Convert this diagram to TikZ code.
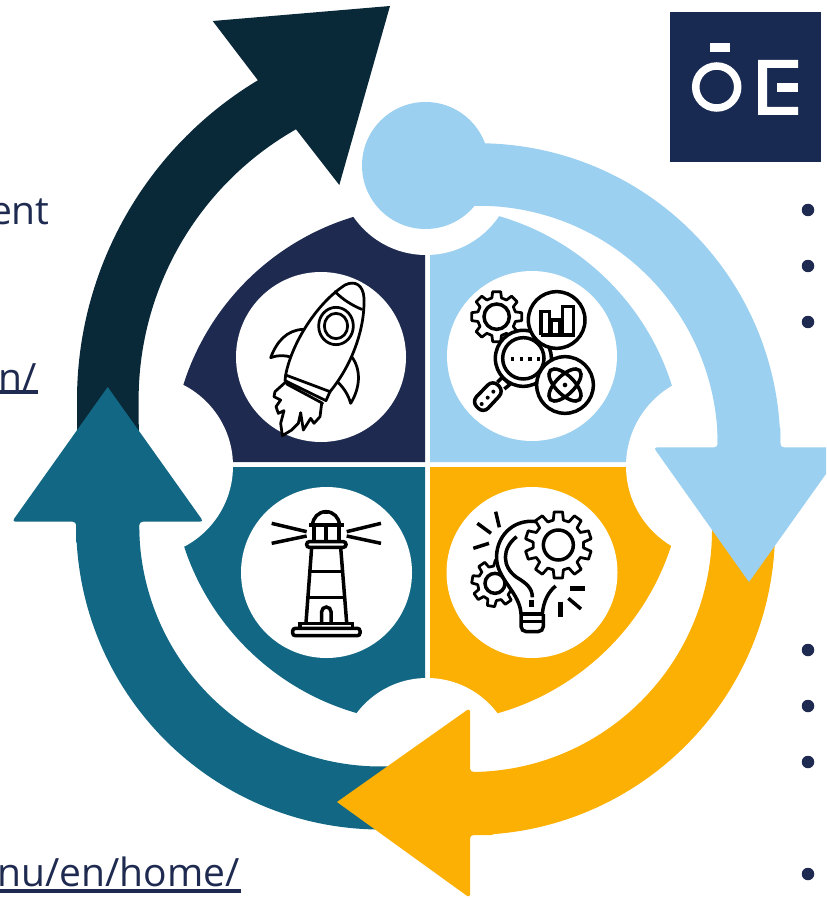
\documentclass[tikz,border=0pt]{standalone}
\usepackage{fontspec}
\setmainfont{Open Sans}
\definecolor{navy}{HTML}{1E2A50}
\definecolor{logoblue}{HTML}{182A52}
\definecolor{sky}{HTML}{9BD0F0}
\definecolor{amber}{HTML}{FBB003}
\definecolor{teal2}{HTML}{126884}
\definecolor{deep}{HTML}{092938}
\newcommand{\gearshape}[6]{% cx cy outer root teeth startangle
  \pgfmathsetmacro{\gstep}{360/#5}
  \filldraw[icon,fill=white] ({#1+#4*cos(#6-0.32*\gstep)},{#2+#4*sin(#6-0.32*\gstep)})
  \foreach \k in {1,...,#5}{
    -- ({#1+#3*cos(#6+(\k-1)*\gstep-0.2*\gstep)},{#2+#3*sin(#6+(\k-1)*\gstep-0.2*\gstep)})
    -- ({#1+#3*cos(#6+(\k-1)*\gstep+0.2*\gstep)},{#2+#3*sin(#6+(\k-1)*\gstep+0.2*\gstep)})
    -- ({#1+#4*cos(#6+(\k-1)*\gstep+0.32*\gstep)},{#2+#4*sin(#6+(\k-1)*\gstep+0.32*\gstep)})
    -- ({#1+#4*cos(#6+\k*\gstep-0.32*\gstep)},{#2+#4*sin(#6+\k*\gstep-0.32*\gstep)})
  } -- cycle;
}
\tikzset{
  icon/.style={draw=black,line width=0.055cm,line join=round,line cap=round},
  thick icon/.style={draw=black,line width=0.07cm,line join=miter},
  stem/.style={line width=#1*0.02cm,line cap=butt},
  linktext/.style={anchor=base east,text=navy,inner sep=0pt,font=\fontsize{22.2}{26}\selectfont},
  bulletdot/.style={circle,fill=navy,inner sep=0pt,minimum size=0.25cm}
}
\begin{document}
\begin{tikzpicture}[x=0.02cm,y=-0.02cm]
\useasboundingbox (0,0) rectangle (826,898);
\clip (0,0) rectangle (826,898);
% central quadrants
\fill[navy] (425,462) -- (171.5,462) arc[start angle=180,end angle=270,radius=256] -- (425,208.5) -- cycle;
\fill[sky] (430,462) -- (683.5,462) arc[start angle=0,end angle=-90,radius=256] -- (430,208.5) -- cycle;
\fill[teal2] (425,467) -- (171.5,467) arc[start angle=180,end angle=90,radius=256] -- (425,720.5) -- cycle;
\fill[amber] (430,467) -- (683.5,467) arc[start angle=0,end angle=90,radius=256] -- (430,720.5) -- cycle;
% notches
\fill[white] (426,167) circle[radius=88];
\fill[white] (142,466) circle[radius=91];
\fill[white] (719,466) circle[radius=93];
\fill[white] (427,766) circle[radius=88];
% icon discs
\fill[white] (321,357) circle[radius=85];
\fill[white] (532,356) circle[radius=85];
\fill[white] (326.5,572.5) circle[radius=85.5];
\fill[white] (532,572.5) circle[radius=85.5];
% dark arrow
\fill[deep] (77,470) -- (77,400) arc[start angle=180,end angle=239,radius=373] -- (212.7,21) -- (390,6) -- (339.3,185) -- (296,129.3) arc[start angle=240.4,end angle=180,radius=311] -- (139,470) -- cycle;
% teal arrow
\draw[teal2,stem=63] (107.7,530) -- (107.7,525) arc[start angle=180,end angle=85,radius=273];
\fill[teal2] (107.7,387) [rounded corners=2pt] -- (203.5,521.7) -- (139.2,521.7) -- (139.2,545) -- (76.2,545) -- (76.2,521.7) -- (12,521.7) [sharp corners] -- cycle;
% amber arrow
\draw[amber,stem=63] (743.5,480) -- (743.5,530) arc[start angle=0,end angle=90,radius=273.5] -- (440,803.5);
\fill[amber] (337,802) [rounded corners=2pt] -- (470,708) -- (470,772) -- (495,772) -- (495,835) -- (470,835) -- (470,898) [sharp corners] -- cycle;
% sky arrow
\draw[sky,stem=62.5] (749,455) -- (749,445) arc[start angle=0,end angle=-105,radius=270.5];
\fill[sky] (425.5,165.5) circle[radius=63.5];
\fill[sky] (749,582) [rounded corners=2pt] -- (845,447.3) -- (780.3,447.3) -- (780.3,425) -- (717.7,425) -- (717.7,447.3) -- (653.5,447.3) [sharp corners] -- cycle;
% logo
\fill[logoblue] (670,12) rectangle (821,162);
\draw[white,line width=0.15cm] (716.7,87) circle[radius=21];
\fill[white] (710,43) rectangle (730,52);
\fill[white] (758,60) -- (798,60) -- (798,68) -- (767,68) -- (767,107) -- (798,107) -- (798,115) -- (758,115) -- cycle;
\fill[white] (777,83) rectangle (798,92);
% bullets
\foreach \n/\yy in {a/210,b/266,c/322,d/650,e/706,f/762,g/874}
  \node[bulletdot] (bullet\n) at (808,\yy) {};
% texts
\node[linktext] (t1) at (50,225) {ent};
\node[linktext] (t2) at (37.5,391) {n/};
\node[linktext] (t3) at (240,886.5) {nu/en/home/};
\fill[navy] (0,390) rectangle (38,394);
\fill[navy] (0,889) rectangle (241,893);
% rocket
\begin{scope}[shift={(220,260)},scale=1/3]
 \draw[icon] (250,208) .. controls (200,210) and (170,245) .. (152,293) .. controls (172,285) and (195,285) .. (215,292);
 \draw[icon] (395,290) .. controls (425,330) and (420,385) .. (392,430) .. controls (385,405) and (372,385) .. (355,368);
 \filldraw[icon,fill=white] (197,345) .. controls (215,250) and (290,130) .. (375,75) .. controls (405,60) and (430,75) .. (432,115) .. controls (435,200) and (400,310) .. (330,395) -- cycle;
 \draw[icon] (345,95) .. controls (370,120) and (395,135) .. (425,148);
 \draw[icon] (348,198) ellipse[x radius=52,y radius=56];
 \draw[icon] (348,198) ellipse[x radius=35,y radius=38];
 \draw[icon] (197,345) -- (195,362) -- (318,422) -- (330,395);
 \draw[icon] (200,372) -- (308,430);
 \draw[icon] (195,368) -- (165,395) -- (162,410) -- (182,420) -- (168,440) -- (175,460) -- (192,452) -- (182,490) -- (187,527) -- (215,510) -- (235,490) -- (242,458) -- (250,510) -- (272,475) -- (282,490) -- (300,470) -- (305,430);
\end{scope}
% research icon
\begin{scope}[shift={(440,265)},scale=1/3]
 \gearshape{170}{155}{76}{58}{8}{0}
 \draw[thick icon] (170,155) circle[radius=38];
 % handle
 \draw[thick icon,rounded corners=4pt] (158,345) -- (192,378) -- (130,445) -- (95,410) -- cycle;
 \draw[thick icon,line join=round] (172,352) -- (187,337) -- (210,358) -- (193,372);
 \fill (125,417) circle[radius=6] (143,398) circle[radius=6] (160,380) circle[radius=6];
 \filldraw[thick icon,fill=white] (250,280) circle[radius=84];
 \draw[thick icon] (250,280) circle[radius=62];
 \foreach \dx in {218,245,270,295} \fill (\dx-5,277) rectangle (\dx+5,287);
 \filldraw[thick icon,fill=white] (350,165) circle[radius=85];
 \draw[thick icon] (303,210) -- (303,140) -- (328,140) -- (328,210) (335,210) -- (335,165) -- (358,165) -- (358,210) (368,210) -- (368,125) -- (400,125) -- (400,210) -- (303,210);
 \filldraw[thick icon,fill=white] (375,360) circle[radius=85];
 \begin{scope}[shift={(375,360)}]
  \draw[thick icon,rotate=45] (0,0) ellipse[x radius=62,y radius=28];
  \draw[thick icon,rotate=-45] (0,0) ellipse[x radius=62,y radius=28];
  \fill (0,0) circle[radius=7];
 \end{scope}
\end{scope}
% lighthouse
\begin{scope}[shift={(240,490)},scale=1/3]
 \draw[thick icon] (218,105) arc[start angle=180,end angle=360,radius=40];
 \draw[thick icon] (208,105) -- (312,105);
 \draw[thick icon] (258,65) -- (258,72);
 \draw[thick icon] (222,105) -- (222,155) (258,105) -- (258,155) (297,105) -- (297,155);
 \draw[thick icon,rounded corners=1.5pt] (200,155) rectangle (318,172);
 \draw[thick icon] (215,172) -- (198,398) (302,172) -- (320,398);
 \draw[thick icon] (210,245) -- (305,245) (205,323) -- (312,323);
 \draw[thick icon] (245,398) -- (245,365) arc[start angle=180,end angle=360,radius=14] -- (273,398);
 \draw[thick icon] (180,415) -- (180,400) -- (338,400) -- (338,415);
 \draw[thick icon,rounded corners=1.5pt] (158,415) rectangle (360,437);
 \draw[thick icon] (95,100) -- (200,125) (95,160) -- (200,138) (423,100) -- (320,125) (423,160) -- (320,138);
\end{scope}
% bulb and gears
\begin{scope}[shift={(445,490)},scale=1/3]
 \gearshape{150}{280}{70}{52}{8}{10}
 \draw[thick icon] (150,280) circle[radius=30];
 \fill[white] (275,95) .. controls (200,85) and (150,145) .. (155,210) .. controls (160,270) and (225,310) .. (228,372) -- (292,372) .. controls (295,340) and (310,310) .. (332,290) -- cycle;
 \draw[thick icon] (275,95) .. controls (200,85) and (150,145) .. (155,210) .. controls (160,270) and (225,310) .. (228,372);
 \draw[thick icon] (332,288) .. controls (310,305) and (295,335) .. (292,372);
 \draw[thick icon] (215,140) .. controls (170,175) and (170,230) .. (215,262) .. controls (245,280) and (262,295) .. (262,322);
 \draw[line width=0.1cm] (259,330) -- (259,350);
 \draw[thick icon,rounded corners=3pt] (228,372) -- (228,425) -- (295,425) -- (295,372);
 \draw[thick icon] (228,372) -- (295,372) (228,395) -- (295,395);
 \gearshape{340}{165}{100}{76}{10}{18}
 \draw[thick icon] (340,165) circle[radius=45];
 \draw[thick icon] (97,100) -- (138,130) (152,65) -- (163,112) (85,175) -- (132,160);
 \draw[line width=0.1cm] (375,295) -- (420,295);
 \draw[thick icon] (370,325) -- (408,357);
 \draw[line width=0.1cm] (345,335) -- (345,380);
\end{scope}
\end{tikzpicture}
\end{document}
